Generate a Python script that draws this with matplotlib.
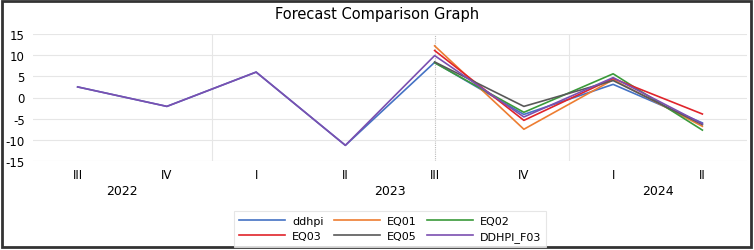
import matplotlib
matplotlib.use("Agg")
import matplotlib.pyplot as plt
from matplotlib.patches import Rectangle
import numpy as np

plt.rcParams['font.family'] = ['DejaVu Sans']

quarters = ["III", "IV", "I", "II", "III", "IV", "I", "II"]
years = ["2022", "2023", "2024"]
year_spans = [(0, 1), (2, 5), (6, 7)]

nan = np.nan
ddhpi     = [2.5, -2.1, 6.0, -11.3, 8.3, -4.0, 3.1, -6.0]
eq01      = [nan, nan, nan, nan, 12.2, -7.5, 4.2, -6.8]
eq02      = [nan, nan, nan, nan, 8.2, -3.5, 5.6, -7.7]
eq03      = [nan, nan, nan, nan, 11.1, -5.4, 4.5, -3.9]
eq05      = [nan, nan, nan, nan, 8.4, -2.1, 4.0, -6.4]
ddhpi_f03 = [2.5, -2.1, 6.0, -11.3, 9.9, -4.6, 4.7, -6.2]

series = [
    ("ddhpi", ddhpi, "#4472C4"),
    ("EQ01", eq01, "#ED7D31"),
    ("EQ02", eq02, "#3A9A3A"),
    ("EQ03", eq03, "#E0242B"),
    ("EQ05", eq05, "#595959"),
    ("DDHPI_F03", ddhpi_f03, "#7B4FB0"),
]

W, H = 754, 251
fig = plt.figure(figsize=(W / 100, H / 100), dpi=100)
ax = fig.add_axes([33 / W, 89 / H, 714 / W, 127 / H])

x = np.arange(len(quarters))
handles = {}
for name, vals, col in series:
    ln, = ax.plot(x, vals, color=col, lw=1.2, label=name)
    handles[name] = ln

ax.set_xlim(-0.5, len(quarters) - 0.5)
ax.set_ylim(-15, 15)
ax.set_yticks([15, 10, 5, 0, -5, -10, -15])
ax.set_yticklabels(["15", "10", "5", "0", "-5", "-10", "-15"])
ax.grid(axis='y', color='#E6E6E6', lw=0.8)
for b in [1.5, 5.5]:
    ax.axvline(b, color='#E6E6E6', lw=0.8, zorder=0)
ax.axvline(4, color='#BBBBBB', lw=0.8, ls=(0, (1, 1)), zorder=0)
for s in ax.spines.values():
    s.set_visible(False)
ax.tick_params(length=0, labelsize=8.5, colors='#000000')
ax.tick_params(axis='y', pad=6)
ax.set_xticks(x)
ax.set_xticklabels(quarters)
ax.tick_params(axis='x', pad=5)

for yr, (a, b) in zip(years, year_spans):
    ax.text((a + b) / 2, -0.236, yr, transform=ax.get_xaxis_transform(),
            ha='center', va='center', fontsize=9)

fig.text(0.5, 1 - 14 / H, "Forecast Comparison Graph", ha='center', va='center', fontsize=10.5)

order = ["ddhpi", "EQ03", "EQ01", "EQ05", "EQ02", "DDHPI_F03"]
leg = fig.legend([handles[n] for n in order], order, loc='center',
                 bbox_to_anchor=(390 / W, 1 - 230 / H), ncol=3,
                 fontsize=8, frameon=True, fancybox=False, handlelength=4.2,
                 columnspacing=0.9, handletextpad=0.6, labelspacing=0.45,
                 borderpad=0.45)
leg.get_frame().set_edgecolor('#E0E0E0')
leg.get_frame().set_linewidth(0.8)

fig.patches.append(Rectangle((1.5 / W, 3.5 / H), 749 / W, 246 / H, transform=fig.transFigure,
                             fill=False, edgecolor='#333333', lw=2))

fig.savefig("out.png", dpi=100)
